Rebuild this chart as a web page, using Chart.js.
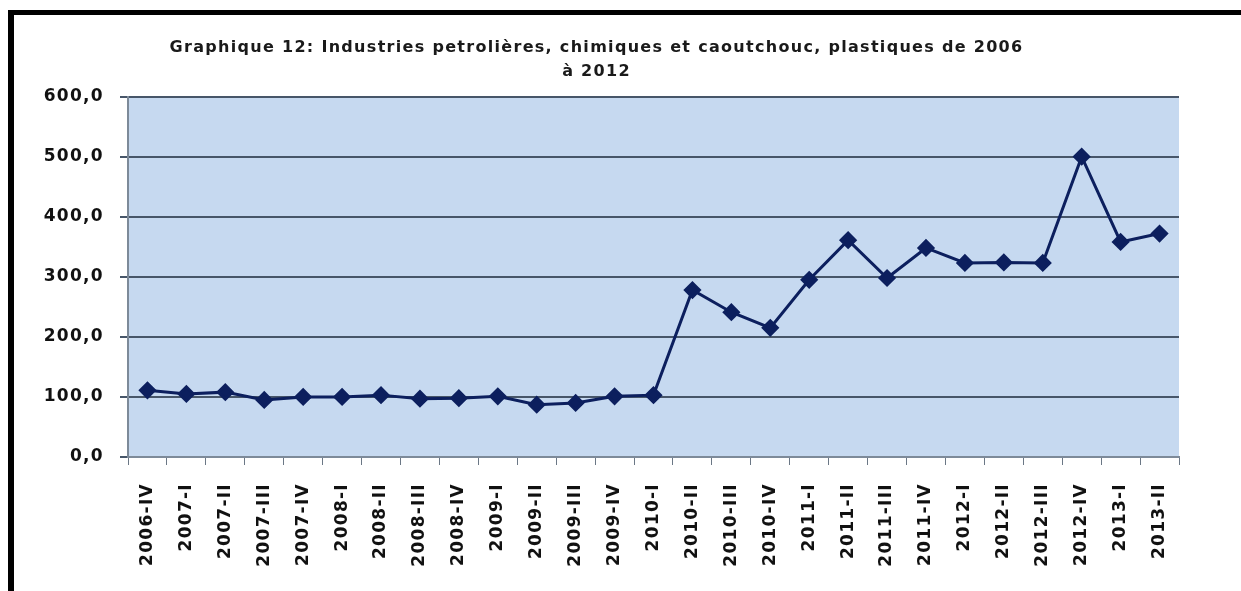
<!DOCTYPE html>
<html lang="fr">
<head>
<meta charset="UTF-8">
<title>Graphique 12</title>
<style>
html,body {margin:0; padding:0; background:#fff;}
#wrap {position:relative; width:1241px; height:591px; overflow:hidden;}
#frame {position:absolute; left:8px; top:10px; right:-10px; bottom:-10px; border-top:5px solid #000; border-left:6px solid #000; pointer-events:none;}
canvas {position:absolute; left:0; top:0;}
</style>
</head>
<body>
<div id="wrap">
<canvas id="chart" width="1241" height="591"></canvas>
<div id="frame"></div>
</div>
<script src="https://cdn.jsdelivr.net/npm/chart.js"></script>
<script>
const periodes = ['2006-IV','2007-I','2007-II','2007-III','2007-IV','2008-I','2008-II','2008-III','2008-IV',
  '2009-I','2009-II','2009-III','2009-IV','2010-I','2010-II','2010-III','2010-IV','2011-I','2011-II','2011-III','2011-IV',
  '2012-I','2012-II','2012-III','2012-IV','2013-I','2013-II'];
const indices = [111,105,108,95,100,100,103,97,98,101,87,90,101,103,278,241,215,295,361,298,348,323,324,323,500,358,372];
const titre = ['Graphique 12: Industries petrolières, chimiques et caoutchouc, plastiques de 2006', 'à 2012'];
const yMin = 0, yMax = 600, yStep = 100;

// fond bleu de la zone de tracé
const fondZone = {
  id:'fondZone',
  beforeDraw(chart){
    const {ctx, chartArea:a} = chart;
    ctx.save();
    ctx.fillStyle = '#c6d9f0';
    ctx.fillRect(a.left, a.top, a.right - a.left, a.bottom - a.top);
    ctx.restore();
  }
};

// texte un peu espacé comme dans l'original
const espacement = {
  id:'espacement',
  beforeUpdate(chart){ chart.ctx.letterSpacing = '1.3px'; }
};

const police = "'DejaVu Sans', Verdana, sans-serif";
const bleu = '#0c1f5e';

new Chart(document.getElementById('chart'), {
  type:'line',
  data:{labels:periodes, datasets:[{
    data:indices, borderColor:bleu, backgroundColor:bleu, borderWidth:3, tension:0,
    pointStyle:'rectRot', pointRadius:7, pointHoverRadius:7, pointBorderColor:bleu, pointBackgroundColor:bleu
  }]},
  options:{
    responsive:false, animation:false,
    layout:{padding:{left:14, top:14, right:62, bottom:0}},
    plugins:{
      legend:{display:false}, tooltip:{enabled:false},
      title:{display:true, text:titre, color:'#1a1a1a', padding:{top:21, bottom:12},
        font:{family:police, size:16, weight:'bold', lineHeight:1.55}}
    },
    scales:{
      x:{
        offset:true,
        grid:{display:true, drawOnChartArea:false, drawTicks:true, tickLength:8, offset:true, color:'#6b7785', lineWidth:1},
        border:{display:true, color:'#7d8a99', width:2},
        ticks:{autoSkip:false, minRotation:90, maxRotation:90, padding:18, color:'#111',
          font:{family:police, size:17, weight:'bold'}},
        afterFit(s){ s.height = 134; }
      },
      y:{
        min:yMin, max:yMax,
        grid:{color:'#475669', lineWidth:2, tickLength:8, drawTicks:true},
        border:{display:true, color:'#7d8a99', width:2},
        ticks:{stepSize:yStep, padding:16, color:'#111',
          font:{family:police, size:17, weight:'bold'},
          callback:v => v.toFixed(1).replace('.', ',')},
        afterFit(s){ s.width = 114; }
      }
    }
  },
  plugins:[espacement, fondZone]
});
</script>
</body>
</html>
